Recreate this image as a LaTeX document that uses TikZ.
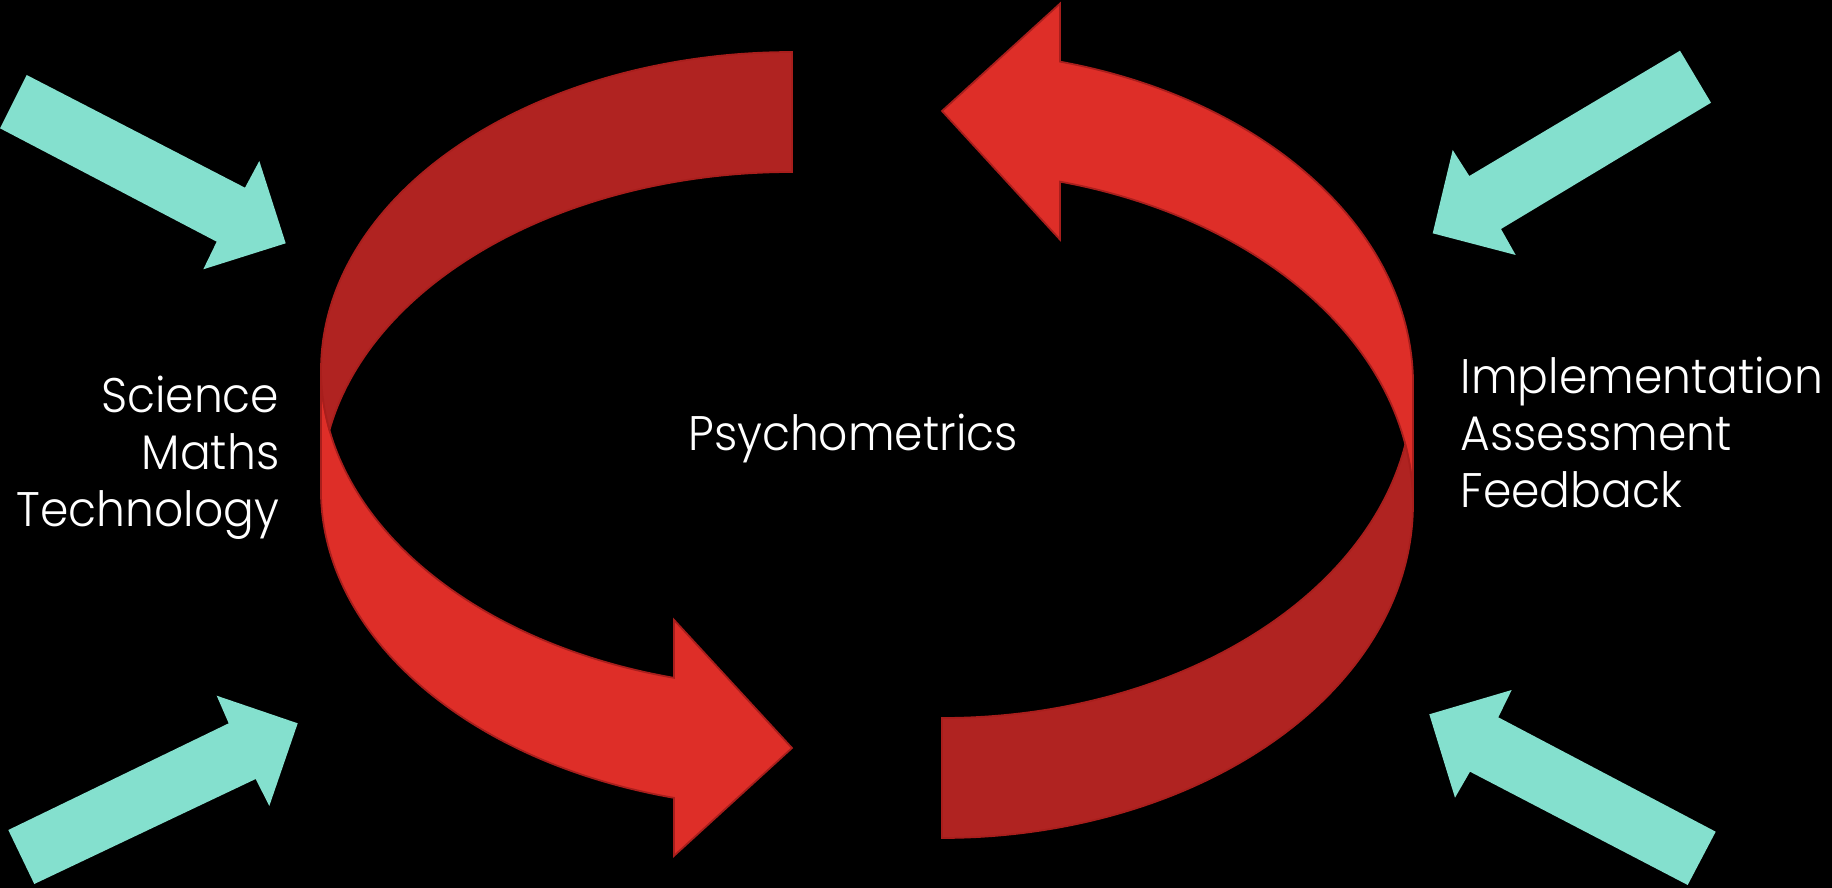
\documentclass[tikz,border=0pt]{standalone}
\usepackage{fontspec}
\setmainfont{Poppins Light}[FakeStretch=0.94]
\usepackage{tikz}

\definecolor{ribbonred}{RGB}{222,46,40}
\definecolor{ribbondark}{RGB}{176,35,33}
\definecolor{ribbonedge}{RGB}{168,30,28}
\definecolor{feedcyan}{RGB}{132,224,206}

\tikzset{
  front face/.style={fill=ribbonred, draw=ribbonedge, line width=0.5pt},
  back face/.style={fill=ribbondark, draw=ribbonedge, line width=0.5pt},
  feeder/.style={fill=feedcyan},
  caption/.style={text=white, inner sep=0pt, font=\fontsize{13.8}{16.2}\selectfont}
}

% curved ribbon arrow, flat end at the origin; #1 = half height of the loop
\newcommand{\ribbonloop}[1]{%
  \pgfmathsetmacro{\ribbase}{#1*(1+sin(104.5))}
  \pgfmathsetmacro{\ribcross}{asin(60/#1)}
  \draw[front face] (-471,#1)
    arc[start angle=180, end angle=104.5, x radius=471, y radius=#1]
    -- (-118,\ribbase-58) -- (0,2*#1+60) -- (-118,\ribbase+178) -- (-118,\ribbase+120)
    arc[start angle=104.5, end angle=180, x radius=471, y radius=#1] -- cycle;
  \draw[back face] (0,120)
    arc[start angle=270, end angle=180+\ribcross, x radius=471, y radius=#1]
    arc[start angle=180-\ribcross, end angle=270, x radius=471, y radius=#1] -- cycle;
}

\begin{document}
\begin{tikzpicture}[x=0.01cm, y=-0.01cm]
  % background
  \fill[black] (0,0) rectangle (1832,888);
  \useasboundingbox (0,0) rectangle (1832,888);

  % the two ribbon arrows
  \begin{scope}[shift={(792,52)}]
    \ribbonloop{318}
  \end{scope}
  \begin{scope}[shift={(942,838)}, rotate=180]
    \ribbonloop{333.5}
  \end{scope}

  % incoming arrows
  \fill[feeder] (26.7,75) -- (245,187.7) -- (259.3,161) -- (285.7,243.3)
    -- (203.3,269.3) -- (216.7,241.7) -- (0,128.3) -- cycle;
  \fill[feeder] (8.3,830) -- (228.7,723.3) -- (216.7,695.7) -- (297.7,723.3)
    -- (269.3,806) -- (255.7,779) -- (34.3,884) -- cycle;
  \fill[feeder] (1680,50.7) -- (1711,102.7) -- (1501,229) -- (1515.7,255)
    -- (1432.7,233.3) -- (1452.7,150) -- (1469.3,176) -- cycle;
  \fill[feeder] (1715.7,831.7) -- (1498.3,717.3) -- (1511.7,690) -- (1429.3,714.3)
    -- (1455,797.7) -- (1470,771.7) -- (1687.7,885) -- cycle;

  % labels
  \node[caption, align=right, anchor=east] (sources) at (280,458)
    {Science\\Maths\hspace*{0.25em}\\Technology};
  \node[caption, anchor=base] (core) at (853,451) {Psychometrics};
  \node[caption, align=left, anchor=west] (stages) at (1460,432)
    {Implementation\\Assessment\\Feedback};
\end{tikzpicture}
\end{document}
